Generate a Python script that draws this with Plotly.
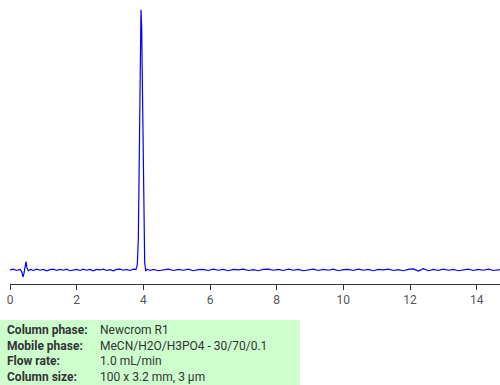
import plotly.graph_objects as go

# ---- data ----
time_min = [0.00, 0.10, 0.20, 0.30, 0.35, 0.39, 0.42, 0.45, 0.48, 0.51, 0.55, 0.62, 0.70, 0.80,
            0.90, 1.00, 1.10, 1.20, 1.30, 1.40, 1.50, 1.60, 1.70, 1.80, 1.90, 2.00, 2.10, 2.20,
            2.30, 2.40, 2.50, 2.60, 2.70, 2.80, 2.90, 3.00, 3.10, 3.20, 3.30, 3.40, 3.50, 3.60,
            3.70, 3.78, 3.82, 3.85, 3.88, 3.91, 3.93, 3.95, 3.98, 4.01, 4.04, 4.07, 4.12, 4.20,
            4.30, 4.45, 4.60, 4.75, 4.90, 5.05, 5.20, 5.35, 5.50, 5.65, 5.80, 5.95, 6.10, 6.25,
            6.40, 6.55, 6.70, 6.85, 7.00, 7.15, 7.30, 7.45, 7.60, 7.75, 7.90, 8.05, 8.20, 8.35,
            8.50, 8.65, 8.80, 8.95, 9.10, 9.25, 9.40, 9.55, 9.70, 9.85, 10.00, 10.15, 10.30,
            10.45, 10.60, 10.75, 10.90, 11.05, 11.20, 11.35, 11.50, 11.65, 11.80, 11.95, 12.10,
            12.25, 12.40, 12.55, 12.70, 12.85, 13.00, 13.15, 13.30, 13.45, 13.60, 13.75, 13.90,
            14.05, 14.20, 14.35, 14.50, 14.70]
signal = [0.0, 0.3, -0.2, 0.2, -0.6, -2.7, -1.2, 1.8, 3.2, 0.8, -0.3, 0.2, -0.2, 0.3,
          -0.1, 0.2, -0.3, 0.1, 0.3, -0.2, 0.2, -0.1, 0.3, -0.3, 0.1, 0.2, -0.2, 0.3,
          -0.1, 0.2, -0.3, 0.2, 0.0, 0.3, -0.2, 0.1, -0.3, 0.2, 0.3, -0.1, 0.2, -0.2,
          0.3, 0.2, 2.0, 12.0, 45.0, 85.0, 100.0, 93.0, 55.0, 18.0, 3.0, -0.4, 0.3, -0.2,
          0.2, -0.3, 0.1, 0.3, -0.2, 0.2, -0.1, 0.3, -0.3, 0.1, 0.2, -0.2, 0.3, -0.1,
          0.2, -0.3, 0.2, 0.0, 0.3, -0.2, 0.1, -0.3, 0.2, 0.3, -0.1, 0.2, -0.2, 0.3,
          -0.1, 0.2, -0.3, 0.1, 0.3, -0.2, 0.2, -0.1, 0.3, -0.3, 0.1, 0.2, -0.2,
          0.3, -0.1, 0.2, -0.3, 0.2, 0.0, 0.3, -0.2, 0.1, -0.3, 0.2, 0.4,
          -0.4, 0.5, -0.3, 0.2, -0.2, 0.3, -0.1, 0.2, -0.3, 0.1, 0.3, -0.2,
          0.2, -0.1, 0.3, -0.2, 0.1]
tick_values = [0, 2, 4, 6, 8, 10, 12, 14]
tick_labels = ["0", "2", "4", "6", "8", "10", "12", "14"]
info_labels = ["Column phase:", "Mobile phase:", "Flow rate:", "Column size:"]
info_values = ["Newcrom R1", "MeCN/H2O/H3PO4 - 30/70/0.1", "1.0 mL/min", "100 x 3.2 mm, 3 µm"]

# ---- layout constants (pixels) ----
W, H = 500, 385
ML, MR, MT, MB = 10, 0, 0, 101
PW, PH = W - ML - MR, H - MT - MB


def px(x):
    return (x - ML) / PW


def py(y):
    return (H - MB - y) / PH


fig = go.Figure()
fig.add_trace(go.Scatter(x=time_min, y=signal, mode="lines",
                         line=dict(color="#0000ff", width=1.2), hoverinfo="skip",
                         showlegend=False))

fig.add_shape(type="rect", xref="paper", yref="paper",
              x0=px(0), x1=px(300), y0=py(385), y1=py(320),
              fillcolor="#ccffcc", line=dict(width=0), layer="below")

row_y = [330, 345.5, 361, 376.5]
for lab, val, yy in zip(info_labels, info_values, row_y):
    fig.add_annotation(xref="paper", yref="paper", x=px(5), y=py(yy), text="<b>%s</b>" % lab,
                       showarrow=False, xanchor="left", yanchor="middle",
                       font=dict(family="Roboto", size=12, color="#333333"))
    fig.add_annotation(xref="paper", yref="paper", x=px(98), y=py(yy), text=val,
                       showarrow=False, xanchor="left", yanchor="middle",
                       font=dict(family="Roboto", size=12, color="#333333"))

fig.update_layout(
    width=W, height=H, margin=dict(l=ML, r=MR, t=MT, b=MB, pad=0),
    paper_bgcolor="white", plot_bgcolor="white",
    xaxis=dict(range=[0, 14.7], tickmode="array", tickvals=tick_values, ticktext=tick_labels,
               showgrid=False, zeroline=False, showline=True, linecolor="#333333", linewidth=1,
               ticks="outside", ticklen=5, tickcolor="#333333",
               tickfont=dict(family="Roboto", size=12, color="#555555"), fixedrange=True),
    yaxis=dict(range=[-5.4, 103.8], visible=False, fixedrange=True),
)

fig.write_html("out.html", config={"displayModeBar": False})
